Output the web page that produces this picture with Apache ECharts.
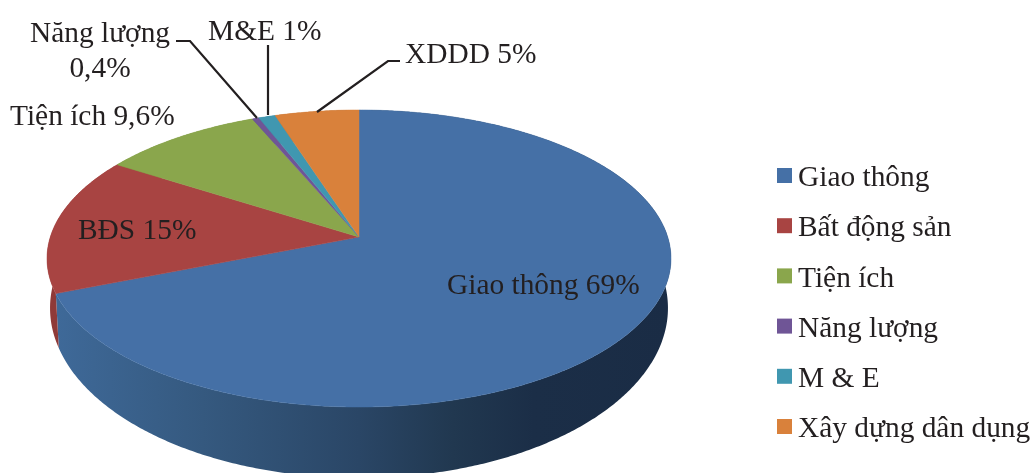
<!DOCTYPE html>
<html>
<head>
<meta charset="utf-8">
<style>
  html, body { margin: 0; padding: 0; background: #fff; }
  #main { width: 1033px; height: 473px; }
</style>
<script src="https://cdn.jsdelivr.net/npm/echarts@6/dist/echarts.min.js"></script>
</head>
<body>
<div id="main"></div>
<script>
// du lieu doc tu hinh
const categories = ['Giao thông', 'Bất động sản', 'Tiện ích', 'Năng lượng', 'M & E', 'Xây dựng dân dụng'];
const shares = [69, 15, 9.6, 0.4, 1, 5];
const sliceLabels = ['Giao thông 69%', 'BĐS 15%', 'Tiện ích 9,6%', 'Năng lượng\n0,4%', 'M&E 1%', 'XDDD 5%'];

const colors = ['#4570a6', '#a84442', '#8aa64c', '#6f5596', '#4097b0', '#d9813b'];
const wallColors = ['#2b4868', '#8f3a38', '#6f8a3c', '#56417a', '#2f7a90', '#b0662c'];

const TEXT = '#231f20';
const FONT = '"Liberation Serif", "Times New Roman", serif';
const FONT_SIZE = 29.4;

// mat tren va mat duoi cua banh, chieu phoi canh
const PERSP = -0.1448;
const topFace = { cx: 359, cy: 237, a: 145.4, b: 308.7 };
const bottomFace = { cx: 359, cy: 283.4, a: 166.4, b: 305.7 };

function project(face, deg) {
  const t = deg * Math.PI / 180;
  const X = Math.sin(t);
  const Y = -Math.cos(t);
  const w = 1 + PERSP * Y;
  return [face.cx + face.b * X / w, face.cy + face.a * Y / w];
}

function arc(face, from, to) {
  const pts = [];
  const n = Math.max(2, Math.ceil((to - from) / 0.5));
  for (let i = 0; i <= n; i++) {
    pts.push(project(face, from + (to - from) * i / n));
  }
  return pts;
}

// goc bat dau va ket thuc cua tung lat, theo chieu kim dong ho tu dinh
const total = shares.reduce((s, v) => s + v, 0);
function sliceRange(idx) {
  let sum = 0;
  for (let i = 0; i < idx; i++) sum += shares[i];
  return [sum / total * 360, (sum + shares[idx]) / total * 360];
}

function renderWall(params, api) {
  const idx = params.dataIndex;
  const [from, to] = sliceRange(idx);
  const pts = arc(topFace, from, to).concat(arc(bottomFace, from, to).reverse());
  let fill = wallColors[idx];
  if (idx === 0) {
    fill = new echarts.graphic.LinearGradient(47, 0, 671, 0, [
      { offset: 0, color: '#3f6a9a' },
      { offset: 0.25, color: '#35597f' },
      { offset: 0.5, color: '#2a4666' },
      { offset: 0.65, color: '#213850' },
      { offset: 0.78, color: '#1b2e47' },
      { offset: 1, color: '#1a2c45' }
    ], true);
  }
  return { type: 'polygon', shape: { points: pts }, style: { fill: fill } };
}

function renderTop(idx) {
  return function () {
    const [from, to] = sliceRange(idx);
    const pts = [[topFace.cx, topFace.cy]].concat(arc(topFace, from, to));
    return {
      type: 'polygon',
      shape: { points: pts },
      style: { fill: colors[idx], stroke: colors[idx], lineWidth: 0.5 }
    };
  };
}

const series = [{
  type: 'custom',
  name: 'wall',
  coordinateSystem: 'none',
  z: 1,
  silent: true,
  renderItem: renderWall,
  data: shares
}];
categories.forEach((name, i) => {
  series.push({
    type: 'custom',
    name: name,
    coordinateSystem: 'none',
    z: 2,
    silent: true,
    itemStyle: { color: colors[i] },
    renderItem: renderTop(i),
    data: [shares[i]]
  });
});

function label(text, x, y, align) {
  return {
    type: 'text',
    z: 5,
    x: x,
    y: y,
    style: {
      text: text,
      fill: TEXT,
      font: FONT_SIZE + 'px ' + FONT,
      lineHeight: 35,
      align: align || 'left',
      verticalAlign: 'middle'
    }
  };
}

function leader(points) {
  return {
    type: 'polyline',
    z: 4,
    shape: { points: points },
    style: { stroke: TEXT, lineWidth: 2.2, fill: null }
  };
}

const chart = echarts.init(document.getElementById('main'));
chart.setOption({
  animation: false,
  backgroundColor: '#fff',
  legend: {
    orient: 'vertical',
    left: 777,
    top: 164,
    icon: 'rect',
    itemWidth: 15,
    itemHeight: 15,
    itemGap: 21.2,
    padding: 0,
    selectedMode: false,
    data: categories,
    formatter: '{t|{name}}',
    textStyle: {
      color: TEXT,
      fontFamily: FONT,
      fontSize: FONT_SIZE,
      rich: {
        // day chu xuong thap hon o vuong
        t: { color: TEXT, fontFamily: FONT, fontSize: FONT_SIZE, lineHeight: 30, height: 24, verticalAlign: 'bottom', padding: [0, 0, 0, 1] }
      }
    }
  },
  graphic: [
    label(sliceLabels[0], 447, 286),
    label(sliceLabels[1], 78, 231),
    label(sliceLabels[2], 10, 117),
    label(sliceLabels[3], 100, 52, 'center'),
    label(sliceLabels[4], 208, 32),
    label(sliceLabels[5], 405, 55),
    leader([[176, 41], [190, 41], [257, 118]]),
    leader([[268, 45], [268, 115]]),
    leader([[400, 61], [388, 61], [317, 112]])
  ],
  series: series
});
</script>
</body>
</html>
